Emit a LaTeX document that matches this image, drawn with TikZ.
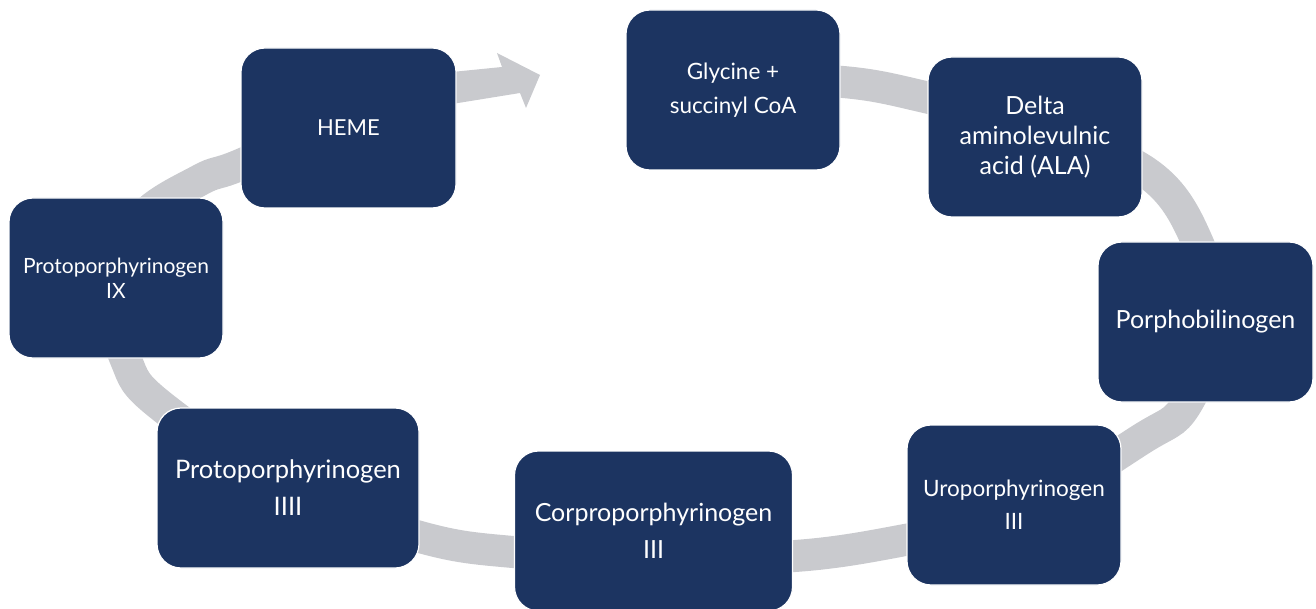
\documentclass[tikz,border=0pt]{standalone}
\usepackage{fontspec}
\setmainfont{Lato}
\definecolor{boxblue}{HTML}{1C3461}
\definecolor{ringgray}{HTML}{C9CACE}
\tikzset{
  stepbox/.style={rectangle, rounded corners=24pt, fill=boxblue, draw=white, line width=1.2pt,
    text=white, align=center, inner sep=0pt},
  ring/.style={draw=ringgray, line width=32pt, line cap=butt},
}
\newcommand{\fs}[2]{\fontsize{#1}{#2}\selectfont}
\begin{document}
\begin{tikzpicture}[x=1pt,y=-1pt]
\useasboundingbox (0,0) rectangle (1316,609);
% ring
\draw[ring] plot[smooth, tension=0.6] coordinates {
 (733,80) (843,82) (925,97) (1050,130) (1150,175) (1196,239) (1215,320)
 (1186,405) (1140,440) (1014,515) (905,540) (795,556) (653,558) (513,552)
 (420,537) (288,490) (160,405) (126,360) (112,290) (140,220) (200,180)
 (240,165) (348,118) (452,89)};
\fill[ringgray] (452,72) -- (502,67) -- (497,53) -- (540,75) -- (526,108) -- (520,93) -- (452,104) -- cycle;
% boxes
\node[stepbox, minimum width=215pt, minimum height=160pt, font=\fs{22}{30}] (heme) at (348.5,128) {HEME};
\node[stepbox, minimum width=214pt, minimum height=160pt, font=\fs{22.5}{34}] (gly) at (733,90) {Glycine +\\succinyl CoA};
\node[stepbox, minimum width=214pt, minimum height=160pt, font=\fs{25}{30}] (ala) at (1035,137) {Delta\\aminolevulnic\\acid (ALA)};
\node[stepbox, minimum width=215pt, minimum height=160pt, font=\fs{25}{37}] (pbg) at (1205.5,322) {Porphobilinogen};
\node[stepbox, minimum width=214pt, minimum height=160pt, font=\fs{22.5}{33}] (uro) at (1014,505) {Uroporphyrinogen\\III};
\node[stepbox, minimum width=278pt, minimum height=160pt, font=\fs{25}{37}] (copro) at (653.5,531) {Corproporphyrinogen\\III};
\node[stepbox, minimum width=262pt, minimum height=160pt, font=\fs{25.5}{37}] (p4) at (288,488) {Protoporphyrinogen\\IIII};
\node[stepbox, minimum width=214pt, minimum height=160pt, font=\fs{21}{25}] (p9) at (116,278) {Protoporphyrinogen\\IX};
\end{tikzpicture}
\end{document}
